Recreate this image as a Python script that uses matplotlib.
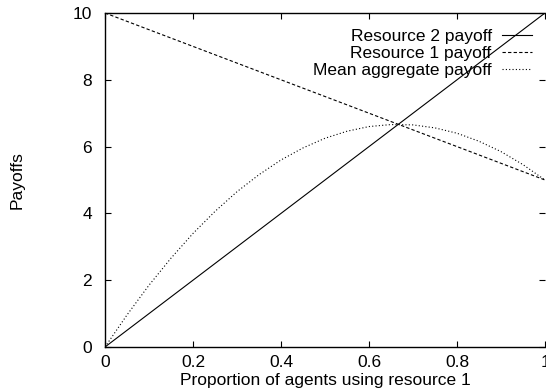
import matplotlib
matplotlib.use("Agg")
import matplotlib.pyplot as plt

plt.rcParams['font.family'] = ['Liberation Sans', 'DejaVu Sans']

# data
x_lines = [0.0, 1.0]
resource2 = [0.0, 10.0]
resource1 = [10.0, 5.0]
x_mean = [0.0, 0.05, 0.1, 0.15, 0.2, 0.25, 0.3, 0.35, 0.4, 0.45, 0.5,
          0.55, 0.6, 0.65, 0.7, 0.75, 0.8, 0.85, 0.9, 0.95, 1.0]
mean_payoff = [0.0, 0.96, 1.85, 2.66, 3.4, 4.06, 4.65, 5.16, 5.6, 5.96, 6.25,
               6.46, 6.6, 6.66, 6.65, 6.56, 6.4, 6.16, 5.85, 5.46, 5.0]
xticks = [0, 0.2, 0.4, 0.6, 0.8, 1]
xticklabels = ['0', '0.2', '0.4', '0.6', '0.8', '1']
yticks = [0, 2, 4, 6, 8, 10]

fs = 12.5
fig = plt.figure(figsize=(5.46, 3.88), dpi=100)
ax = fig.add_axes([105/546, 1-347/388, 440/546, 334/388])

lw = 0.8
ax.plot(x_lines, resource2, color='black', lw=lw, ls='-', label='Resource 2 payoff')
ax.plot(x_lines, resource1, color='black', lw=lw, ls=(0, (3, 2)), label='Resource 1 payoff')
ax.plot(x_mean, mean_payoff, color='black', lw=lw, ls=(0, (1, 2)), label='Mean aggregate payoff')

ax.set_xlim(0, 1)
ax.set_ylim(0, 10)
ax.set_xticks(xticks)
ax.set_xticklabels(xticklabels)
ax.set_yticks(yticks)
ax.tick_params(direction='in', top=True, right=True, length=4, width=0.8,
               labelsize=fs)
ax.tick_params(axis='y', pad=9.5)
ax.tick_params(axis='x', pad=6)
for s in ax.spines.values():
    s.set_linewidth(1.0)
ax.spines['right'].set_visible(False)

ax.set_xlabel('Proportion of agents using resource 1', fontsize=fs, labelpad=2)
ax.set_ylabel('Payoffs', fontsize=fs, labelpad=34.5)

leg = ax.legend(loc='upper right', bbox_to_anchor=(0.994, 0.984), frameon=False,
                markerfirst=False, fontsize=fs, handlelength=1.75, handletextpad=0.57,
                labelspacing=0.1, borderaxespad=0.2)
for t in leg.get_texts():
    t.set_ha('right')

fig.savefig('out.png', dpi=100)
